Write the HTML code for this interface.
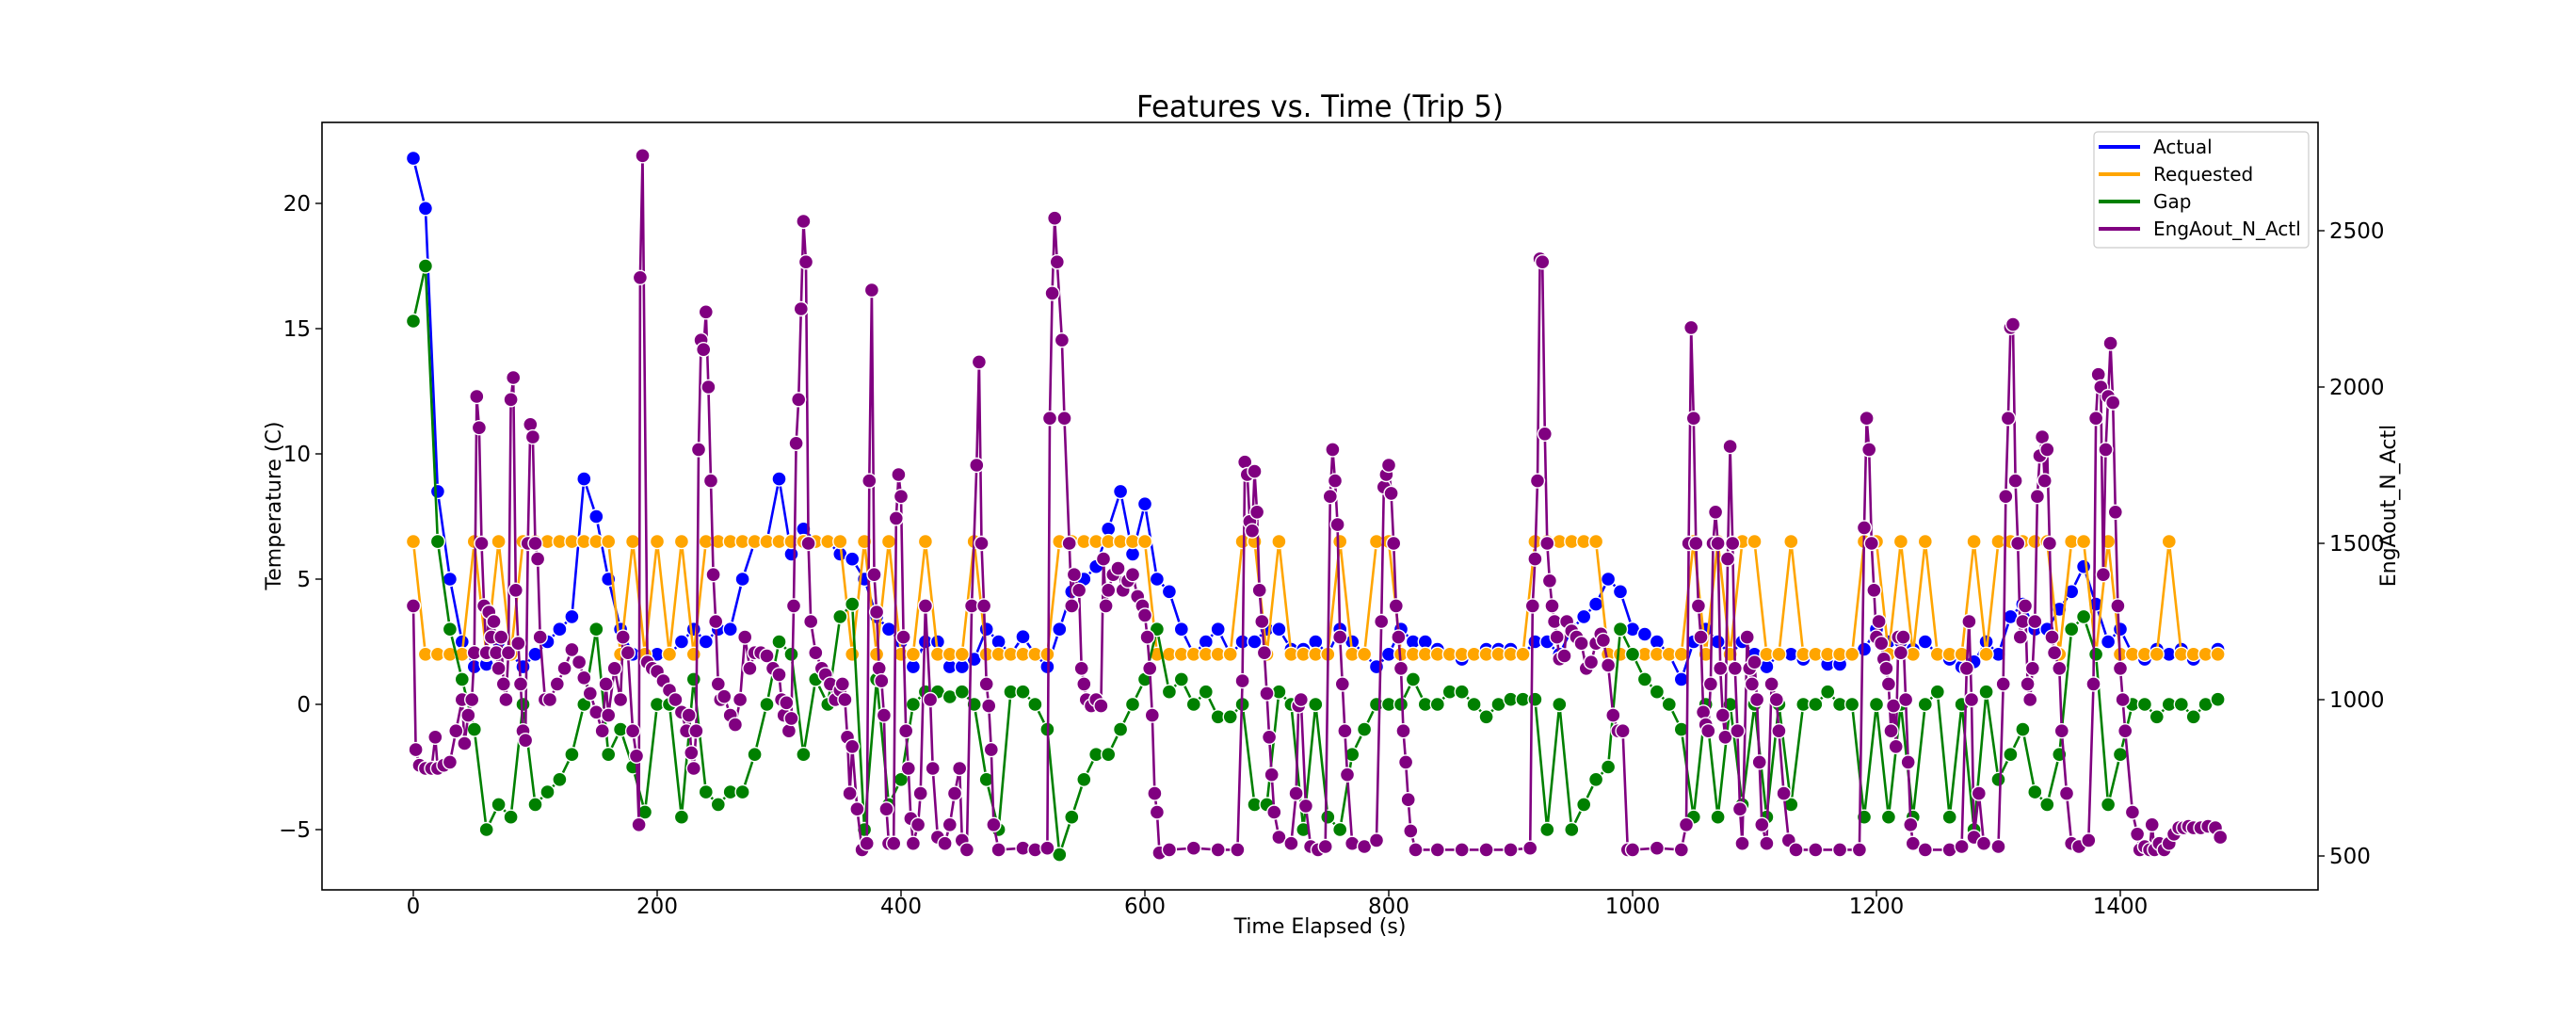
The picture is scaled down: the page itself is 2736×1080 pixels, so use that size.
<!DOCTYPE html>
<html><head><meta charset="utf-8"><title>Features vs. Time (Trip 5)</title>
<style>html,body{margin:0;padding:0;background:#fff}svg{display:block}text{font-family:"DejaVu Sans","Liberation Sans",sans-serif;fill:#000}</style>
</head><body>
<svg id="chart" width="2736" height="1080" viewBox="0 0 2736 1080" xmlns="http://www.w3.org/2000/svg">
<rect width="2736" height="1080" fill="#fff"/>
<text x="1402" y="124" font-size="32" text-anchor="middle" textLength="390" lengthAdjust="spacingAndGlyphs">Features vs. Time (Trip 5)</text>
<g id="marks"></g>
<g id="axes"></g>
<rect x="342" y="130" width="2120" height="815" fill="none" stroke="#000" stroke-width="1.6"/>
<text x="1402" y="991" font-size="22" text-anchor="middle">Time Elapsed (s)</text>
<text transform="translate(298,537) rotate(-90)" font-size="22" text-anchor="middle">Temperature (C)</text>
<text transform="translate(2544,537) rotate(-90)" font-size="22" text-anchor="middle">EngAout_N_Actl</text>
<g>
<rect x="2224" y="140" width="228" height="123" rx="4" fill="#fff" fill-opacity="0.85" stroke="#ccc" stroke-width="1.2"/>
<line x1="2229" x2="2273" y1="156" y2="156" stroke="#0000ff" stroke-width="4"/><text x="2287" y="163" font-size="20">Actual</text>
<line x1="2229" x2="2273" y1="185" y2="185" stroke="#ffa500" stroke-width="4"/><text x="2287" y="192" font-size="20">Requested</text>
<line x1="2229" x2="2273" y1="214" y2="214" stroke="#008000" stroke-width="4"/><text x="2287" y="221" font-size="20">Gap</text>
<line x1="2229" x2="2273" y1="243" y2="243" stroke="#800080" stroke-width="4"/><text x="2287" y="250" font-size="20">EngAout_N_Actl</text>
</g>
</svg>
<script>
const times = [];
for (let i = 0; i <= 148; i++) times.push(i * 10);
const actual = [21.8,19.8,8.5,5,2.5,1.5,1.6,2.5,2,1.5,2,2.5,3,3.5,9,7.5,5,3,2,1.8,2,2,2.5,3,2.5,3,3,5,6.5,6.5,9,6,7,6.5,6.5,6,5.8,5,3.5,3,2.5,1.5,2.5,2.5,1.5,1.5,1.8,3,2.5,2,2.7,2,1.5,3,4.5,5,5.5,7,8.5,6,8,5,4.5,3,2,2.5,3,2,2.5,2.5,3,3,2.2,2.2,2.5,2,3,2.5,2,1.5,2,3,2.5,2.5,2.2,2,1.8,2,2.2,2.2,2.2,2,2.5,2.5,2,3,3.5,4,5,4.5,3,2.8,2.5,2,1,2.5,3,2.5,2,2.5,2,1.5,2,2,1.8,2,1.6,1.6,2,2.2,3,2.5,2.5,2.2,2.5,2,1.8,1.5,1.7,2.5,2,3.5,4,3,3,3.8,4.5,5.5,4,2.5,3,2,1.8,2.2,2,2.2,1.8,2,2.2];
const requested = [6.5,2,2,2,2,6.5,2,6.5,2,6.5,6.5,6.5,6.5,6.5,6.5,6.5,6.5,2,6.5,2,6.5,2,6.5,2,6.5,6.5,6.5,6.5,6.5,6.5,6.5,6.5,6.5,6.5,6.5,6.5,2,6.5,2,6.5,2,2,6.5,2,2,2,6.5,2,2,2,2,2,2,6.5,6.5,6.5,6.5,6.5,6.5,6.5,6.5,2,2,2,2,2,2,2,6.5,6.5,2,6.5,2,2,2,2,6.5,2,2,6.5,6.5,2,2,2,2,2,2,2,2,2,2,2,6.5,6.5,6.5,6.5,6.5,6.5,2,2,2,2,2,2,2,6.5,2,6.5,2,6.5,6.5,2,2,6.5,2,2,2,2,2,6.5,6.5,2,6.5,2,6.5,2,2,2,6.5,2,6.5,6.5,6.5,6.5,6.5,2,6.5,6.5,2,6.5,2,2,2,2,6.5,2,2,2,2];
const gap = [15.3,17.5,6.5,3,1,-1,-5,-4,-4.5,0,-4,-3.5,-3,-2,0,3,-2,-1,-2.5,-4.3,0,0,-4.5,1,-3.5,-4,-3.5,-3.5,-2,0,2.5,2,-2,1,0,3.5,4,-5,1,-4,-3,0,0.5,0.5,0.3,0.5,0,-3,-5,0.5,0.5,0,-1,-6,-4.5,-3,-2,-2,-1,0,1,3,0.5,1,0,0.5,-0.5,-0.5,0,-4,-4,0.5,0,-5,0,-4.5,-5,-2,-1,0,0,0,1,0,0,0.5,0.5,0,-0.5,0,0.2,0.2,0.2,-5,0,-5,-4,-3,-2.5,3,2,1,0.5,0,-1,-4.5,0,-4.5,0,-4,0,-4.5,0,-4,0,0,0.5,0,0,-4.5,0,-4.5,0,-4.5,0,0.5,-4.5,0,-5,0.5,-3,-2,-1,-3.5,-4,-2,3,3.5,2,-4,-2,0,0,-0.5,0,0,-0.5,0,0.2];
const rpmTimes = [0,2,5,10,15,18,20,25,30,35,40,42,45,48,50,52,54,56,58,60,62,64,66,68,70,72,74,76,78,80,82,84,86,88,90,92,94,96,98,100,102,104,108,112,118,124,130,136,140,145,150,155,158,160,165,170,172,176,180,183,185,186,188,192,196,200,205,210,215,220,224,226,228,230,232,234,236,238,240,242,244,246,248,250,252,255,260,264,268,272,276,280,285,290,295,300,302,304,306,308,310,312,314,316,318,320,322,324,326,330,335,338,342,346,350,352,354,356,358,360,364,368,372,374,376,378,380,382,384,386,388,390,394,396,398,400,402,404,406,408,410,414,416,420,424,426,430,436,440,444,448,450,454,458,462,464,466,468,470,472,474,476,480,500,510,520,522,524,526,528,532,534,538,540,542,546,548,550,552,556,560,564,566,568,570,574,578,582,586,590,594,598,600,602,604,606,608,610,612,620,640,660,676,680,682,684,686,688,690,692,694,696,698,700,702,704,706,710,720,724,726,728,732,736,742,748,752,754,756,758,760,762,764,766,770,780,790,794,796,798,800,802,804,806,808,810,812,814,816,818,822,840,860,880,900,916,918,920,922,924,926,928,930,932,934,936,938,940,944,946,950,954,958,962,966,970,974,976,980,984,988,992,996,1000,1020,1040,1044,1046,1048,1050,1052,1054,1056,1058,1060,1062,1064,1066,1068,1070,1072,1074,1076,1078,1080,1082,1084,1086,1088,1090,1094,1096,1098,1100,1102,1104,1106,1110,1114,1118,1120,1124,1128,1134,1150,1170,1186,1190,1192,1194,1196,1198,1200,1202,1204,1206,1208,1210,1212,1214,1216,1218,1220,1222,1224,1226,1228,1230,1240,1260,1270,1274,1276,1278,1280,1284,1288,1300,1304,1306,1308,1310,1312,1314,1316,1318,1320,1322,1324,1326,1328,1330,1332,1334,1336,1338,1340,1342,1344,1346,1350,1352,1356,1360,1366,1374,1378,1380,1382,1384,1386,1388,1390,1392,1394,1396,1398,1400,1402,1404,1410,1414,1416,1420,1424,1426,1428,1432,1436,1440,1444,1448,1452,1456,1460,1466,1472,1478,1482];
const rpm = [1300,840,790,780,780,880,780,790,800,900,1000,860,950,1000,1150,1970,1870,1500,1300,1150,1280,1200,1250,1150,1100,1200,1050,1000,1150,1960,2030,1350,1180,1050,900,870,1500,1880,1840,1500,1450,1200,1000,1000,1050,1100,1160,1120,1070,1020,960,900,1050,950,1100,1000,1200,1150,900,820,600,2350,2740,1120,1100,1090,1060,1030,1000,960,900,950,830,780,900,1800,2150,2120,2240,2000,1700,1400,1250,1050,1000,1010,950,920,1000,1200,1100,1150,1150,1140,1100,1080,1000,950,990,900,940,1300,1820,1960,2250,2530,2400,1500,1250,1150,1100,1080,1050,1000,1030,1050,1000,880,700,850,650,520,540,1700,2310,1400,1280,1100,1060,950,650,540,540,1580,1720,1650,1200,900,780,620,540,600,700,1300,1000,780,560,540,600,700,780,550,520,1300,1750,2080,1500,1300,1050,980,840,600,520,525,520,525,1900,2300,2540,2400,2150,1900,1500,1300,1400,1350,1100,1050,1000,980,1000,980,1450,1300,1350,1400,1420,1350,1380,1400,1330,1300,1270,1200,1100,950,700,640,510,520,525,520,520,1060,1760,1720,1570,1540,1730,1600,1350,1250,1150,1020,880,760,640,560,540,700,980,1000,660,530,520,530,1650,1800,1700,1560,1200,1050,900,760,540,530,550,1250,1680,1720,1750,1660,1500,1300,1200,1100,900,800,680,580,520,520,520,520,520,525,1300,1450,1700,2410,2400,1850,1500,1380,1300,1250,1200,1130,1140,1250,1220,1200,1180,1100,1120,1180,1210,1190,1110,950,900,900,520,520,525,520,600,1500,2190,1900,1500,1300,1200,960,920,900,1050,1500,1600,1500,1100,950,880,1450,1810,1500,1100,900,650,540,1200,1100,1050,1120,1000,800,600,540,1050,1000,900,700,550,520,520,520,520,1550,1900,1800,1500,1350,1200,1250,1180,1130,1100,1050,900,980,850,1200,1150,1200,1000,800,600,540,520,520,530,1100,1250,1000,560,700,540,530,1050,1650,1900,2190,2200,1700,1500,1200,1250,1300,1050,1000,1100,1250,1650,1780,1840,1700,1800,1500,1200,1150,1100,900,700,540,530,550,1050,1900,2040,2000,1400,1800,1970,2140,1950,1600,1300,1100,1000,900,640,570,520,530,520,600,520,540,520,540,570,590,590,595,590,590,595,590,560];
const xTicks = [0,200,400,600,800,1000,1200,1400];
const yTicks = [-5,0,5,10,15,20];
const y2Ticks = [500,1000,1500,2000,2500];

const NS = 'http://www.w3.org/2000/svg';
const L = 342, R = 2462, T = 130, B = 945;
function xs(t){ return 439 + t * 1.295; }
function ys(v){ return 748 - v * 26.6; }
function ys2(v){ return 909 - (v - 500) * 0.332; }
const marks = document.getElementById('marks');
const axes = document.getElementById('axes');
function mk(tag, attrs, parent){ const e = document.createElementNS(NS, tag); for (const k in attrs) e.setAttribute(k, attrs[k]); parent.appendChild(e); return e; }

function drawSeries(name, tArr, vArr, scale, color){
  const g = mk('g', {}, marks);
  
  
  let d = '';
  for (let i = 0; i < vArr.length; i++) d += (i ? 'L' : 'M') + xs(tArr[i]).toFixed(1) + ' ' + scale(vArr[i]).toFixed(1);
  const p = mk('path', {d: d, fill: 'none', stroke: color, 'stroke-width': 2.6, 'stroke-linejoin': 'round'}, g);
  
  
  for (let i = 0; i < vArr.length; i++) {
    const c = mk('circle', {cx: xs(tArr[i]).toFixed(1), cy: scale(vArr[i]).toFixed(1), r: 7.5, fill: color, stroke: '#fff', 'stroke-width': 1.4}, g);
    
    
  }
}
drawSeries('actual', times, actual, ys, '#0000ff');
drawSeries('requested', times, requested, ys, '#ffa500');
drawSeries('gap', times, gap, ys, '#008000');
drawSeries('engaout', rpmTimes, rpm, ys2, '#800080');

xTicks.forEach(v => {
  const x = xs(v);
  mk('line', {x1: x, x2: x, y1: B, y2: B + 7, stroke: '#000', 'stroke-width': 1.4}, axes);
  const t = mk('text', {x: x, y: 970, 'font-size': 23, 'text-anchor': 'middle'}, axes);
  
  
  t.textContent = v;
});
yTicks.forEach(v => {
  const y = ys(v);
  mk('line', {x1: L - 7, x2: L, y1: y, y2: y, stroke: '#000', 'stroke-width': 1.4}, axes);
  const t = mk('text', {x: L - 12, y: y + 8, 'font-size': 23, 'text-anchor': 'end'}, axes);
  
  
  t.textContent = v < 0 ? '\u2212' + Math.abs(v) : v;
});
y2Ticks.forEach(v => {
  const y = ys2(v);
  mk('line', {x1: R, x2: R + 7, y1: y, y2: y, stroke: '#000', 'stroke-width': 1.4}, axes);
  const t = mk('text', {x: R + 12, y: y + 8, 'font-size': 23, 'text-anchor': 'start'}, axes);
  
  
  t.textContent = v;
});
</script>
</body></html>
